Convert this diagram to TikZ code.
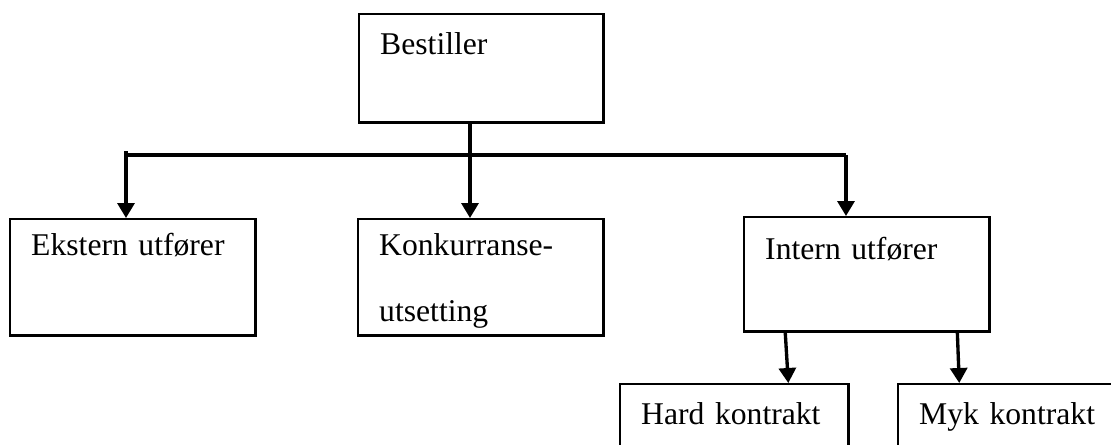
\documentclass[tikz,border=0pt]{standalone}
\usepackage{fontspec}
\setmainfont{Liberation Serif}
\usetikzlibrary{arrows.meta}

\begin{document}
\begin{tikzpicture}[x=0.01cm,y=-0.01cm,>={Triangle[length=0.15cm,width=0.17cm]}]
    
        \tikzstyle{box} = [draw, rectangle, line width=0.7pt, anchor=north west, align=left, inner xsep=0.21cm, inner ysep=0pt, font=\fontsize{9}{18.8}\selectfont];
        \tikzstyle{link} = [draw, line width=0.95pt];
        
        \useasboundingbox (0,0) rectangle (1111,444);
        
        \node[box, text width=2.02cm, text height=0.40cm, text depth=0.68cm] (best) at (358,13) {Bestiller};
        \node[box, text width=2.03cm, text height=0.36cm, text depth=0.80cm] (ekst) at (9,218) {Ekstern utfører};
        \node[box, text width=2.03cm, text height=0.36cm, text depth=0.80cm] (konk) at (357,218) {Konkurranse-\\utsetting};
        \node[box, text width=2.03cm, text height=0.42cm, text depth=0.72cm] (intern) at (743,216) {Intern utfører};
        \node[box, text width=1.86cm, text height=0.40cm, text depth=0.45cm] (hard) at (619,383) {Hard kontrakt};
        \node[box, text width=1.88cm, text height=0.40cm, text depth=0.45cm] (myk) at (897,383) {Myk kontrakt};
        
        \coordinate (busL) at (126,151);
        \coordinate (busM) at (470,155);
        \coordinate (busR) at (846,155);
        
        \path[link] (busL |- busM) -- (busR);
        \path[link,->] (best.south -| busM) -- (konk.north -| busM);
        \path[link,->] (busL) -- (ekst.north -| busL);
        \path[link,->] (busR) -- (intern.north -| busR);
        \path[link,->] ([xshift=-0.815cm]intern.south) -- ([xshift=0.54cm]hard.north);
        \path[link,->] ([xshift=0.905cm]intern.south) -- ([xshift=-0.54cm]myk.north);
        
    \end{tikzpicture}
\end{document}
